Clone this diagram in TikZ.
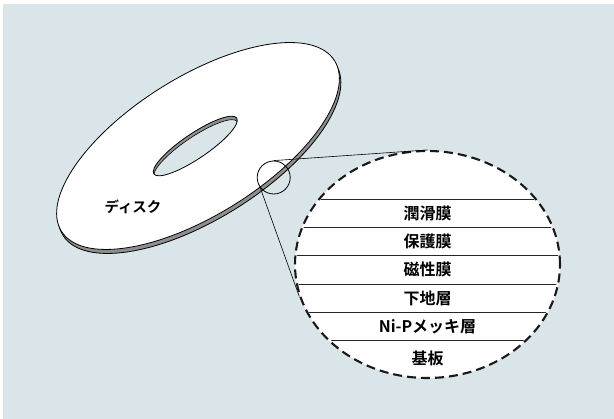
\documentclass[tikz,border=0pt]{standalone}
\usepackage{fontspec}
\newfontfamily\jpfont{Noto Sans CJK JP}[BoldFont={* Bold}]
\usetikzlibrary{shapes.geometric,positioning}
\definecolor{bgblue}{HTML}{DAE5EA}
\definecolor{edgegray}{HTML}{8E8E8E}
\tikzset{
  diskface/.style = {draw=black, line width=0.8pt, fill=white},
  diskedge/.style = {draw=black, line width=0.8pt, fill=edgegray},
  lens/.style = {circle, draw=black, line width=0.8pt, minimum size=33pt, inner sep=0pt},
  leader/.style = {black, line width=0.6pt},
  closeup/.style = {ellipse, draw=black!90, fill=white, line width=2.1pt, dash pattern=on 9pt off 5pt, minimum width=265pt, minimum height=227pt, inner sep=0pt},
  layerline/.style = {black!85, line width=0.9pt},
  layerlabel/.style = {font=\jpfont\bfseries\fontsize{16}{16}\selectfont, inner sep=0pt},
}

\begin{document}
\begin{tikzpicture}[x=1pt, y=-1pt]

% canvas
\useasboundingbox (0,0) rectangle (614,419);
\fill[white] (0,0) rectangle (614,419);
\fill[bgblue] (3,4) rectangle (614,419);

% disk: underside first, then the top face
\draw[diskedge, rotate around={32:(199.5,150)}] (199.5,150) ellipse [x radius=161, y radius=69];
\draw[diskface, rotate around={32:(198,146)}] (198,146) ellipse [x radius=161, y radius=69];

% centre hole with its inner wall
\fill[edgegray, rotate around={34:(195.3,146)}] (195.3,146) ellipse [x radius=50, y radius=12.5];
\begin{scope}
  \clip[rotate around={34:(195.3,146)}] (195.3,146) ellipse [x radius=50, y radius=12.5];
  \draw[fill=bgblue, line width=0.6pt, rotate around={34:(195.8,149.5)}] (195.8,149.5) ellipse [x radius=50, y radius=12.5];
\end{scope}
\draw[line width=0.8pt, rotate around={34:(195.3,146)}] (195.3,146) ellipse [x radius=50, y radius=12.5];

\node[font=\jpfont\bfseries\fontsize{14.5}{14.5}\selectfont, inner sep=0pt] (disklabel) at (133,207) {ディスク};

% magnifier and close-up of the coating stack
\node[lens] (zoom) at (273.7,177.5) {};
\node[closeup] (detail) at (427.5,264.5) {};
\draw[leader] (zoom.north) -- (detail.north);
\draw[leader] (zoom.217) -- (detail.194);

% layer boundaries, clipped to the close-up
\begin{scope}
  \clip (detail.center) ellipse [x radius=131, y radius=112];
  \foreach \y in {199.3,227.5,255.7,284,312.2,340.4}
    \draw[layerline] (290,\y) -- (565,\y);
\end{scope}

\foreach \name/\txt/\y in {lube/潤滑膜/213.3, protect/保護膜/241.5, magnet/磁性膜/269.9,
    under/下地層/298.1, plating/Ni-Pメッキ層/326.3, substrate/基板/358}
  \node[layerlabel] (\name) at (427.5,\y) {\txt};

\end{tikzpicture}
\end{document}
